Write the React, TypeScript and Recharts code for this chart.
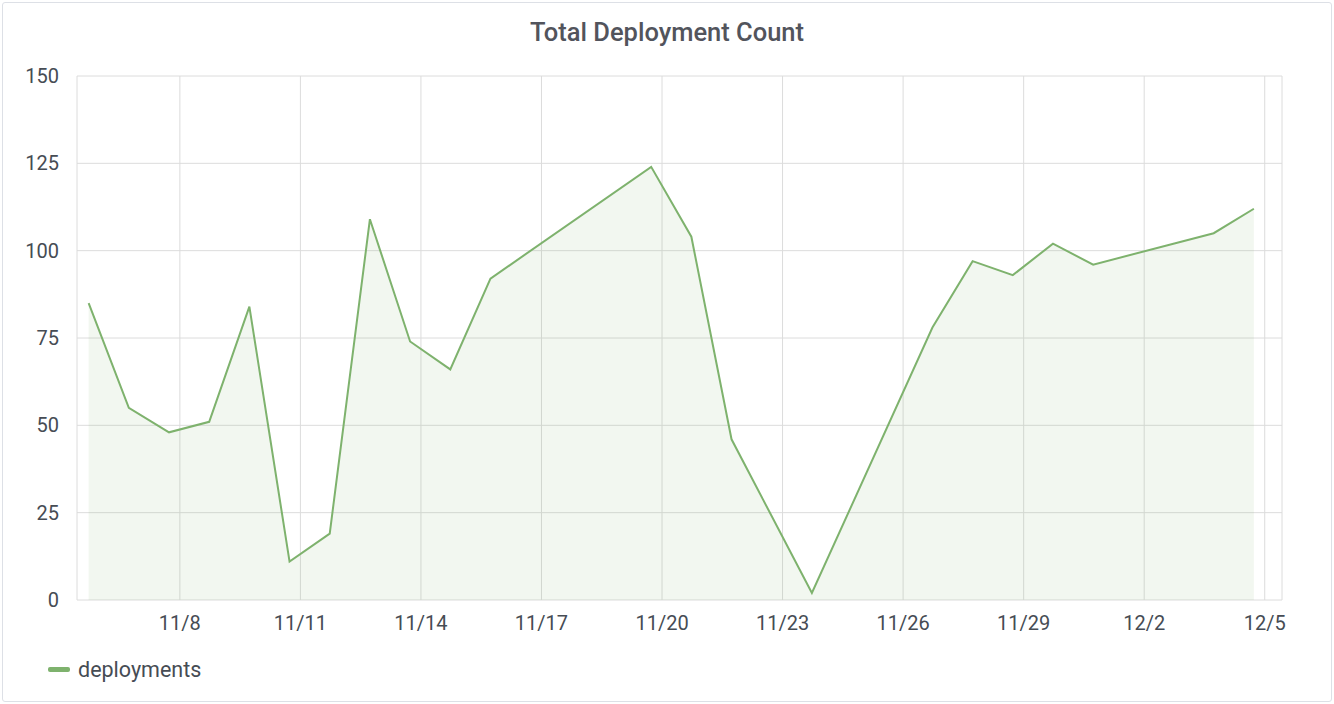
import { AreaChart, Area, XAxis, YAxis, CartesianGrid } from "recharts";

// day number: 11/8 = 8, 12/1 = 31
const days = [5.73, 6.73, 7.73, 8.73, 9.73, 10.73, 11.73, 12.73, 13.73, 14.73, 15.73, 19.73, 20.73, 21.73, 23.73, 26.73, 27.73, 28.73, 29.73, 30.73, 33.73, 34.73];
const deployments = [85, 55, 48, 51, 84, 11, 19, 109, 74, 66, 92, 124, 104, 46, 2, 78, 97, 93, 102, 96, 105, 112];
const xTicks = [8, 11, 14, 17, 20, 23, 26, 29, 32, 35];
const yTicks = [0, 25, 50, 75, 100, 125, 150];

const data = days.map((d, i) => ({ d, v: deployments[i] }));
const fmt = (d: number) => (d <= 30 ? `11/${d}` : `12/${d - 30}`);
const GREEN = "#7eb26d";

export default function App() {
  return (
    <div style={{ position: "absolute", left: 0, top: 0, width: 1334, height: 704, background: "#fff", fontFamily: "Roboto, sans-serif" }}>
      <div style={{ position: "absolute", left: 2, top: 2, width: 1328, height: 698, border: "1px solid #dde0e6", borderRadius: 3 }} />
      <div style={{ position: "absolute", top: 17, width: 1334, textAlign: "center", fontSize: 25.5, fontWeight: 500, color: "#52545c" }}>
        Total Deployment Count
      </div>
      <div style={{ position: "absolute", left: 0, top: 0 }}>
        <AreaChart width={1334} height={650} data={data} margin={{ top: 76, right: 52, bottom: 20, left: 0 }}>
          <CartesianGrid stroke="#dcdcdc" />
          <XAxis dataKey="d" type="number" domain={[5.44, 35.43]} ticks={xTicks} tickFormatter={fmt}
            tick={{ fill: "#464c54", fontSize: 20 }} axisLine={false} tickLine={false} height={30} tickMargin={10} />
          <YAxis domain={[0, 150]} ticks={yTicks} width={77} tick={{ fill: "#464c54", fontSize: 20 }}
            axisLine={false} tickLine={false} tickMargin={12} />
          <Area type="linear" dataKey="v" stroke={GREEN} strokeWidth={2} fill={GREEN} fillOpacity={0.1} isAnimationActive={false} dot={false} />
        </AreaChart>
      </div>
      <div style={{ position: "absolute", left: 48, top: 657, display: "flex", alignItems: "center", fontSize: 21.5, color: "#464c54" }}>
        <span style={{ display: "inline-block", width: 22, height: 5, background: GREEN, borderRadius: 2, marginRight: 8 }} />
        deployments
      </div>
    </div>
  );
}
